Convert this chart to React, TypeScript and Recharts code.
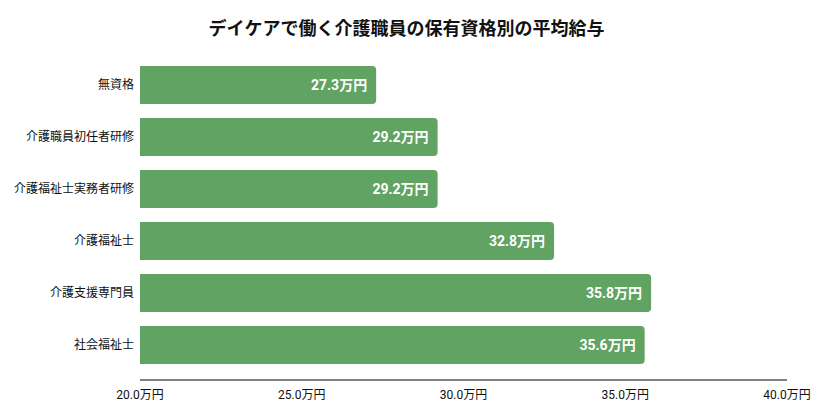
import React from 'react';
import { BarChart, Bar, XAxis, YAxis, LabelList } from 'recharts';

const categories = ['無資格', '介護職員初任者研修', '介護福祉士実務者研修', '介護福祉士', '介護支援専門員', '社会福祉士'];
const salaries = [27.3, 29.2, 29.2, 32.8, 35.8, 35.6];
const xTicks = [20, 25, 30, 35, 40];

const data = categories.map((name, i) => ({ name, value: salaries[i] }));

const FONT = 'Roboto, "Noto Sans CJK JP", sans-serif';

const App: React.FC = () => {
  return (
    <div style={{ position: 'absolute', left: 0, top: 0, width: 813, height: 410, background: '#fff', fontFamily: FONT }}>
      <div
        style={{
          position: 'absolute',
          top: 14,
          left: 0,
          width: 813,
          textAlign: 'center',
          fontSize: 18,
          fontWeight: 'bold',
          color: '#111',
        }}
      >
        デイケアで働く介護職員の保有資格別の平均給与
      </div>
      <BarChart
        width={813}
        height={410}
        data={data}
        layout="vertical"
        margin={{ top: 59, right: 26, left: 0, bottom: 0 }}
        barCategoryGap={7}
      >
        <XAxis
          type="number"
          domain={[20, 40]}
          ticks={xTicks}
          tickFormatter={(v: number) => `${v.toFixed(1)}万円`}
          axisLine={{ stroke: '#000', strokeWidth: 1 }}
          tickLine={false}
          tickSize={0}
          tickMargin={10}
          height={30}
          tick={{ fill: '#111', fontSize: 12, fontFamily: FONT }}
        />
        <YAxis
          type="category"
          dataKey="name"
          width={140}
          axisLine={false}
          tickLine={false}
          tickSize={0}
          tickMargin={6}
          padding={{ top: 0, bottom: 9 }}
          tick={{ fill: '#111', fontSize: 12, fontFamily: FONT }}
        />
        <Bar dataKey="value" fill="#61a363" radius={[0, 4, 4, 0]} isAnimationActive={false}>
          <LabelList
            dataKey="value"
            position="insideRight"
            offset={9}
            formatter={(v: number) => `${v.toFixed(1)}万円`}
            style={{ fill: '#fff', fontSize: 14, fontWeight: 'bold', fontFamily: FONT }}
          />
        </Bar>
      </BarChart>
    </div>
  );
};

export default App;
